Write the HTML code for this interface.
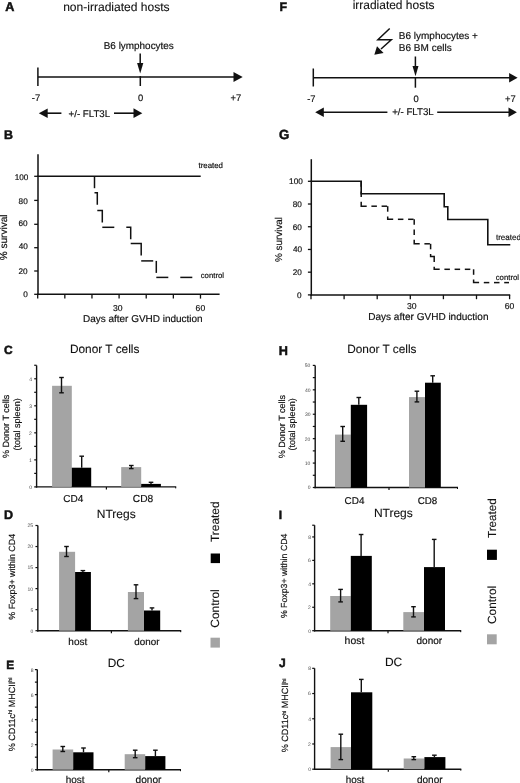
<!DOCTYPE html>
<html><head><meta charset="utf-8"><style>
html,body{margin:0;padding:0;background:#fff;}
body{width:520px;height:783px;overflow:hidden;}
svg{display:block;will-change:transform;filter:blur(0.35px);}
svg text{font-family:"Liberation Sans", sans-serif;text-rendering:geometricPrecision;}
</style></head><body>
<svg width="520" height="783" viewBox="0 0 520 783">
<rect width="520" height="783" fill="#fff"/>
<line x1="140.20" y1="53.50" x2="140.20" y2="64.50" stroke="#111" stroke-width="1.5" />
<polygon points="137.10,63.00 143.30,63.00 140.20,73.60" fill="#111"/>
<line x1="37.90" y1="77.00" x2="234.00" y2="77.00" stroke="#111" stroke-width="1.6" />
<polygon points="233.50,72.10 233.50,82.10 242.70,77.10" fill="#111"/>
<line x1="37.90" y1="67.50" x2="37.90" y2="86.00" stroke="#111" stroke-width="1.5" />
<line x1="140.30" y1="76.00" x2="140.30" y2="86.00" stroke="#111" stroke-width="1.5" />
<polygon points="47.70,108.40 47.70,118.00 38.80,113.20" fill="#111"/>
<line x1="47.00" y1="113.20" x2="61.40" y2="113.20" stroke="#111" stroke-width="1.6" />
<line x1="114.00" y1="113.20" x2="134.00" y2="113.20" stroke="#111" stroke-width="1.6" />
<polygon points="133.50,108.30 133.50,118.10 142.30,113.20" fill="#111"/>
<polyline points="389.70,28.50 377.90,39.70 391.30,39.70 381.00,49.00" fill="none" stroke="#111" stroke-width="1.5" stroke-linejoin="miter" stroke-linecap="butt" />
<polygon points="374.30,54.80 383.60,53.00 377.00,46.30" fill="#111"/>
<line x1="415.40" y1="56.50" x2="415.40" y2="67.00" stroke="#111" stroke-width="1.5" />
<polygon points="412.50,66.10 418.50,66.10 415.50,76.30" fill="#111"/>
<line x1="313.30" y1="77.80" x2="510.00" y2="77.80" stroke="#111" stroke-width="1.6" />
<polygon points="509.10,73.00 509.10,82.60 517.60,77.80" fill="#111"/>
<line x1="313.30" y1="68.50" x2="313.30" y2="86.50" stroke="#111" stroke-width="1.5" />
<line x1="415.40" y1="77.00" x2="415.40" y2="87.70" stroke="#111" stroke-width="1.5" />
<polygon points="323.80,107.40 323.80,117.00 315.20,112.20" fill="#111"/>
<line x1="323.00" y1="112.20" x2="387.40" y2="112.20" stroke="#111" stroke-width="1.6" />
<line x1="437.20" y1="112.20" x2="509.00" y2="112.20" stroke="#111" stroke-width="1.6" />
<polygon points="508.50,107.40 508.50,117.00 516.90,112.20" fill="#111"/>
<line x1="38.00" y1="154.20" x2="38.00" y2="295.00" stroke="#111" stroke-width="1.5" />
<line x1="37.30" y1="294.30" x2="219.60" y2="294.30" stroke="#111" stroke-width="1.5" />
<line x1="37.70" y1="294.30" x2="37.70" y2="298.60" stroke="#111" stroke-width="1.3" />
<line x1="64.83" y1="294.30" x2="64.83" y2="298.60" stroke="#111" stroke-width="1.3" />
<line x1="91.96" y1="294.30" x2="91.96" y2="298.60" stroke="#111" stroke-width="1.3" />
<line x1="119.09" y1="294.30" x2="119.09" y2="298.60" stroke="#111" stroke-width="1.3" />
<line x1="146.22" y1="294.30" x2="146.22" y2="298.60" stroke="#111" stroke-width="1.3" />
<line x1="173.35" y1="294.30" x2="173.35" y2="298.60" stroke="#111" stroke-width="1.3" />
<line x1="200.48" y1="294.30" x2="200.48" y2="298.60" stroke="#111" stroke-width="1.3" />
<line x1="34.20" y1="294.30" x2="38.00" y2="294.30" stroke="#111" stroke-width="1.3" />
<line x1="34.20" y1="271.00" x2="38.00" y2="271.00" stroke="#111" stroke-width="1.3" />
<line x1="34.20" y1="247.70" x2="38.00" y2="247.70" stroke="#111" stroke-width="1.3" />
<line x1="34.20" y1="224.30" x2="38.00" y2="224.30" stroke="#111" stroke-width="1.3" />
<line x1="34.20" y1="200.40" x2="38.00" y2="200.40" stroke="#111" stroke-width="1.3" />
<line x1="34.20" y1="176.30" x2="38.00" y2="176.30" stroke="#111" stroke-width="1.3" />
<line x1="37.30" y1="176.20" x2="200.70" y2="176.20" stroke="#111" stroke-width="1.6" />
<polyline points="94.50,176.20 94.50,188.20" fill="none" stroke="#111" stroke-width="1.5" stroke-linejoin="miter" stroke-linecap="butt" />
<polyline points="94.50,192.80 97.30,192.80 97.30,204.80" fill="none" stroke="#111" stroke-width="1.5" stroke-linejoin="miter" stroke-linecap="butt" />
<polyline points="97.30,210.50 102.30,210.50 102.30,222.50" fill="none" stroke="#111" stroke-width="1.5" stroke-linejoin="miter" stroke-linecap="butt" />
<polyline points="102.30,227.30 114.30,227.30" fill="none" stroke="#111" stroke-width="1.5" stroke-linejoin="miter" stroke-linecap="butt" />
<polyline points="126.30,227.30 130.70,227.30 130.70,239.30" fill="none" stroke="#111" stroke-width="1.5" stroke-linejoin="miter" stroke-linecap="butt" />
<polyline points="130.70,243.60 141.20,243.60 141.20,255.60" fill="none" stroke="#111" stroke-width="1.5" stroke-linejoin="miter" stroke-linecap="butt" />
<polyline points="141.20,260.90 153.20,260.90" fill="none" stroke="#111" stroke-width="1.5" stroke-linejoin="miter" stroke-linecap="butt" />
<polyline points="156.30,260.90 156.30,272.90" fill="none" stroke="#111" stroke-width="1.5" stroke-linejoin="miter" stroke-linecap="butt" />
<polyline points="156.30,277.40 168.30,277.40" fill="none" stroke="#111" stroke-width="1.5" stroke-linejoin="miter" stroke-linecap="butt" />
<polyline points="180.30,277.40 192.30,277.40" fill="none" stroke="#111" stroke-width="1.5" stroke-linejoin="miter" stroke-linecap="butt" />
<line x1="311.30" y1="159.20" x2="311.30" y2="295.60" stroke="#111" stroke-width="1.5" />
<line x1="310.60" y1="294.90" x2="510.20" y2="294.90" stroke="#111" stroke-width="1.5" />
<line x1="311.00" y1="294.90" x2="311.00" y2="299.20" stroke="#111" stroke-width="1.3" />
<line x1="344.10" y1="294.90" x2="344.10" y2="299.20" stroke="#111" stroke-width="1.3" />
<line x1="377.20" y1="294.90" x2="377.20" y2="299.20" stroke="#111" stroke-width="1.3" />
<line x1="410.30" y1="294.90" x2="410.30" y2="299.20" stroke="#111" stroke-width="1.3" />
<line x1="443.40" y1="294.90" x2="443.40" y2="299.20" stroke="#111" stroke-width="1.3" />
<line x1="476.50" y1="294.90" x2="476.50" y2="299.20" stroke="#111" stroke-width="1.3" />
<line x1="509.60" y1="294.90" x2="509.60" y2="299.20" stroke="#111" stroke-width="1.3" />
<line x1="307.90" y1="294.90" x2="311.30" y2="294.90" stroke="#111" stroke-width="1.3" />
<line x1="307.90" y1="272.18" x2="311.30" y2="272.18" stroke="#111" stroke-width="1.3" />
<line x1="307.90" y1="249.46" x2="311.30" y2="249.46" stroke="#111" stroke-width="1.3" />
<line x1="307.90" y1="226.74" x2="311.30" y2="226.74" stroke="#111" stroke-width="1.3" />
<line x1="307.90" y1="204.02" x2="311.30" y2="204.02" stroke="#111" stroke-width="1.3" />
<line x1="307.90" y1="181.30" x2="311.30" y2="181.30" stroke="#111" stroke-width="1.3" />
<polyline points="310.60,181.30 361.20,181.30 361.20,193.80 444.20,193.80 444.20,206.80 447.80,206.80 447.80,219.50 487.80,219.50 487.80,244.70 510.30,244.70" fill="none" stroke="#111" stroke-width="1.6" stroke-linejoin="miter" stroke-linecap="butt" />
<polyline points="361.20,181.30 361.20,186.80" fill="none" stroke="#111" stroke-width="1.5" stroke-linejoin="miter" stroke-linecap="butt" />
<polyline points="361.20,191.50 361.20,197.00" fill="none" stroke="#111" stroke-width="1.5" stroke-linejoin="miter" stroke-linecap="butt" />
<polyline points="361.20,201.70 361.20,206.20 366.70,206.20" fill="none" stroke="#111" stroke-width="1.5" stroke-linejoin="miter" stroke-linecap="butt" />
<polyline points="371.40,206.20 376.90,206.20" fill="none" stroke="#111" stroke-width="1.5" stroke-linejoin="miter" stroke-linecap="butt" />
<polyline points="381.60,206.20 387.10,206.20" fill="none" stroke="#111" stroke-width="1.5" stroke-linejoin="miter" stroke-linecap="butt" />
<polyline points="387.70,206.20 387.70,211.70" fill="none" stroke="#111" stroke-width="1.5" stroke-linejoin="miter" stroke-linecap="butt" />
<polyline points="387.70,216.40 387.70,219.30 393.20,219.30" fill="none" stroke="#111" stroke-width="1.5" stroke-linejoin="miter" stroke-linecap="butt" />
<polyline points="397.90,219.30 403.40,219.30" fill="none" stroke="#111" stroke-width="1.5" stroke-linejoin="miter" stroke-linecap="butt" />
<polyline points="408.10,219.30 413.60,219.30" fill="none" stroke="#111" stroke-width="1.5" stroke-linejoin="miter" stroke-linecap="butt" />
<polyline points="414.20,219.30 414.20,224.80" fill="none" stroke="#111" stroke-width="1.5" stroke-linejoin="miter" stroke-linecap="butt" />
<polyline points="414.20,229.50 414.20,235.00" fill="none" stroke="#111" stroke-width="1.5" stroke-linejoin="miter" stroke-linecap="butt" />
<polyline points="414.20,239.70 414.20,243.80 419.70,243.80" fill="none" stroke="#111" stroke-width="1.5" stroke-linejoin="miter" stroke-linecap="butt" />
<polyline points="424.40,243.80 429.90,243.80" fill="none" stroke="#111" stroke-width="1.5" stroke-linejoin="miter" stroke-linecap="butt" />
<polyline points="430.60,243.80 430.60,249.30" fill="none" stroke="#111" stroke-width="1.5" stroke-linejoin="miter" stroke-linecap="butt" />
<polyline points="430.60,254.00 430.60,256.50 434.20,256.50 434.20,262.00" fill="none" stroke="#111" stroke-width="1.5" stroke-linejoin="miter" stroke-linecap="butt" />
<polyline points="434.20,266.70 434.20,269.30 439.70,269.30" fill="none" stroke="#111" stroke-width="1.5" stroke-linejoin="miter" stroke-linecap="butt" />
<polyline points="444.40,269.30 449.90,269.30" fill="none" stroke="#111" stroke-width="1.5" stroke-linejoin="miter" stroke-linecap="butt" />
<polyline points="454.60,269.30 460.10,269.30" fill="none" stroke="#111" stroke-width="1.5" stroke-linejoin="miter" stroke-linecap="butt" />
<polyline points="464.80,269.30 470.30,269.30" fill="none" stroke="#111" stroke-width="1.5" stroke-linejoin="miter" stroke-linecap="butt" />
<polyline points="473.60,269.30 473.60,274.80" fill="none" stroke="#111" stroke-width="1.5" stroke-linejoin="miter" stroke-linecap="butt" />
<polyline points="473.60,279.50 473.60,282.60 479.10,282.60" fill="none" stroke="#111" stroke-width="1.5" stroke-linejoin="miter" stroke-linecap="butt" />
<polyline points="483.80,282.60 489.30,282.60" fill="none" stroke="#111" stroke-width="1.5" stroke-linejoin="miter" stroke-linecap="butt" />
<polyline points="494.00,282.60 499.50,282.60" fill="none" stroke="#111" stroke-width="1.5" stroke-linejoin="miter" stroke-linecap="butt" />
<polyline points="504.20,282.60 509.00,282.60" fill="none" stroke="#111" stroke-width="1.5" stroke-linejoin="miter" stroke-linecap="butt" />
<line x1="36.60" y1="365.40" x2="36.60" y2="487.60" stroke="#111" stroke-width="1.4" />
<line x1="35.90" y1="486.90" x2="176.20" y2="486.90" stroke="#111" stroke-width="1.4" />
<line x1="106.40" y1="486.90" x2="106.40" y2="489.40" stroke="#111" stroke-width="1.2" />
<line x1="175.70" y1="486.90" x2="175.70" y2="488.40" stroke="#111" stroke-width="1.0" />
<line x1="34.20" y1="486.90" x2="36.60" y2="486.90" stroke="#111" stroke-width="1.2" />
<line x1="34.20" y1="473.38" x2="36.60" y2="473.38" stroke="#111" stroke-width="1.2" />
<line x1="34.20" y1="459.87" x2="36.60" y2="459.87" stroke="#111" stroke-width="1.2" />
<line x1="34.20" y1="446.35" x2="36.60" y2="446.35" stroke="#111" stroke-width="1.2" />
<line x1="34.20" y1="432.84" x2="36.60" y2="432.84" stroke="#111" stroke-width="1.2" />
<line x1="34.20" y1="419.32" x2="36.60" y2="419.32" stroke="#111" stroke-width="1.2" />
<line x1="34.20" y1="405.81" x2="36.60" y2="405.81" stroke="#111" stroke-width="1.2" />
<line x1="34.20" y1="392.29" x2="36.60" y2="392.29" stroke="#111" stroke-width="1.2" />
<line x1="34.20" y1="378.78" x2="36.60" y2="378.78" stroke="#111" stroke-width="1.2" />
<line x1="34.20" y1="365.26" x2="36.60" y2="365.26" stroke="#111" stroke-width="1.2" />
<rect x="52.10" y="385.80" width="19.70" height="101.10" fill="#a4a4a4"/>
<rect x="71.80" y="467.70" width="19.40" height="19.20" fill="#000"/>
<rect x="121.20" y="467.10" width="20.00" height="19.80" fill="#a4a4a4"/>
<rect x="141.20" y="483.90" width="19.70" height="3.00" fill="#000"/>
<line x1="61.50" y1="377.50" x2="61.50" y2="392.80" stroke="#111" stroke-width="1.4" />
<line x1="59.20" y1="377.50" x2="63.80" y2="377.50" stroke="#111" stroke-width="1.4" />
<line x1="59.20" y1="392.80" x2="63.80" y2="392.80" stroke="#111" stroke-width="1.4" />
<line x1="81.70" y1="456.20" x2="81.70" y2="467.70" stroke="#111" stroke-width="1.4" />
<line x1="79.40" y1="456.20" x2="84.00" y2="456.20" stroke="#111" stroke-width="1.4" />
<line x1="131.30" y1="465.50" x2="131.30" y2="468.60" stroke="#111" stroke-width="1.4" />
<line x1="129.00" y1="465.50" x2="133.60" y2="465.50" stroke="#111" stroke-width="1.4" />
<line x1="129.00" y1="468.60" x2="133.60" y2="468.60" stroke="#111" stroke-width="1.4" />
<line x1="151.00" y1="482.30" x2="151.00" y2="483.90" stroke="#111" stroke-width="1.4" />
<line x1="148.70" y1="482.30" x2="153.30" y2="482.30" stroke="#111" stroke-width="1.4" />
<line x1="315.20" y1="365.40" x2="315.20" y2="488.20" stroke="#111" stroke-width="1.4" />
<line x1="314.50" y1="487.50" x2="458.00" y2="487.50" stroke="#111" stroke-width="1.4" />
<line x1="389.00" y1="487.50" x2="389.00" y2="490.00" stroke="#111" stroke-width="1.2" />
<line x1="457.50" y1="487.50" x2="457.50" y2="489.00" stroke="#111" stroke-width="1.0" />
<line x1="312.80" y1="487.50" x2="315.20" y2="487.50" stroke="#111" stroke-width="1.2" />
<line x1="312.80" y1="475.29" x2="315.20" y2="475.29" stroke="#111" stroke-width="1.2" />
<line x1="312.80" y1="463.08" x2="315.20" y2="463.08" stroke="#111" stroke-width="1.2" />
<line x1="312.80" y1="450.87" x2="315.20" y2="450.87" stroke="#111" stroke-width="1.2" />
<line x1="312.80" y1="438.66" x2="315.20" y2="438.66" stroke="#111" stroke-width="1.2" />
<line x1="312.80" y1="426.45" x2="315.20" y2="426.45" stroke="#111" stroke-width="1.2" />
<line x1="312.80" y1="414.24" x2="315.20" y2="414.24" stroke="#111" stroke-width="1.2" />
<line x1="312.80" y1="402.03" x2="315.20" y2="402.03" stroke="#111" stroke-width="1.2" />
<line x1="312.80" y1="389.82" x2="315.20" y2="389.82" stroke="#111" stroke-width="1.2" />
<line x1="312.80" y1="377.61" x2="315.20" y2="377.61" stroke="#111" stroke-width="1.2" />
<line x1="312.80" y1="365.40" x2="315.20" y2="365.40" stroke="#111" stroke-width="1.2" />
<rect x="335.00" y="434.60" width="15.80" height="52.90" fill="#a4a4a4"/>
<rect x="350.80" y="404.80" width="16.30" height="82.70" fill="#000"/>
<rect x="409.00" y="397.10" width="16.00" height="90.40" fill="#a4a4a4"/>
<rect x="425.00" y="382.70" width="15.80" height="104.80" fill="#000"/>
<line x1="342.70" y1="426.50" x2="342.70" y2="441.30" stroke="#111" stroke-width="1.4" />
<line x1="340.40" y1="426.50" x2="345.00" y2="426.50" stroke="#111" stroke-width="1.4" />
<line x1="340.40" y1="441.30" x2="345.00" y2="441.30" stroke="#111" stroke-width="1.4" />
<line x1="358.80" y1="397.50" x2="358.80" y2="404.80" stroke="#111" stroke-width="1.4" />
<line x1="356.50" y1="397.50" x2="361.10" y2="397.50" stroke="#111" stroke-width="1.4" />
<line x1="416.90" y1="391.20" x2="416.90" y2="401.90" stroke="#111" stroke-width="1.4" />
<line x1="414.60" y1="391.20" x2="419.20" y2="391.20" stroke="#111" stroke-width="1.4" />
<line x1="414.60" y1="401.90" x2="419.20" y2="401.90" stroke="#111" stroke-width="1.4" />
<line x1="432.70" y1="375.80" x2="432.70" y2="382.70" stroke="#111" stroke-width="1.4" />
<line x1="430.40" y1="375.80" x2="435.00" y2="375.80" stroke="#111" stroke-width="1.4" />
<line x1="37.85" y1="525.60" x2="37.85" y2="631.40" stroke="#111" stroke-width="1.4" />
<line x1="37.15" y1="630.70" x2="181.20" y2="630.70" stroke="#111" stroke-width="1.4" />
<line x1="111.40" y1="630.70" x2="111.40" y2="633.20" stroke="#111" stroke-width="1.2" />
<line x1="180.70" y1="630.70" x2="180.70" y2="632.20" stroke="#111" stroke-width="1.0" />
<line x1="35.45" y1="630.70" x2="37.85" y2="630.70" stroke="#111" stroke-width="1.2" />
<line x1="35.45" y1="609.66" x2="37.85" y2="609.66" stroke="#111" stroke-width="1.2" />
<line x1="35.45" y1="588.62" x2="37.85" y2="588.62" stroke="#111" stroke-width="1.2" />
<line x1="35.45" y1="567.58" x2="37.85" y2="567.58" stroke="#111" stroke-width="1.2" />
<line x1="35.45" y1="546.54" x2="37.85" y2="546.54" stroke="#111" stroke-width="1.2" />
<line x1="35.45" y1="525.50" x2="37.85" y2="525.50" stroke="#111" stroke-width="1.2" />
<rect x="59.10" y="551.80" width="16.00" height="78.90" fill="#a4a4a4"/>
<rect x="75.10" y="572.00" width="15.80" height="58.70" fill="#000"/>
<rect x="127.90" y="592.00" width="16.10" height="38.70" fill="#a4a4a4"/>
<rect x="144.00" y="610.50" width="16.20" height="20.20" fill="#000"/>
<line x1="66.50" y1="546.50" x2="66.50" y2="556.50" stroke="#111" stroke-width="1.4" />
<line x1="64.20" y1="546.50" x2="68.80" y2="546.50" stroke="#111" stroke-width="1.4" />
<line x1="64.20" y1="556.50" x2="68.80" y2="556.50" stroke="#111" stroke-width="1.4" />
<line x1="82.90" y1="570.60" x2="82.90" y2="572.00" stroke="#111" stroke-width="1.4" />
<line x1="80.60" y1="570.60" x2="85.20" y2="570.60" stroke="#111" stroke-width="1.4" />
<line x1="136.00" y1="584.80" x2="136.00" y2="598.60" stroke="#111" stroke-width="1.4" />
<line x1="133.70" y1="584.80" x2="138.30" y2="584.80" stroke="#111" stroke-width="1.4" />
<line x1="133.70" y1="598.60" x2="138.30" y2="598.60" stroke="#111" stroke-width="1.4" />
<line x1="152.00" y1="607.90" x2="152.00" y2="610.50" stroke="#111" stroke-width="1.4" />
<line x1="149.70" y1="607.90" x2="154.30" y2="607.90" stroke="#111" stroke-width="1.4" />
<rect x="210.70" y="553.50" width="9.30" height="9.60" fill="#000"/>
<rect x="210.50" y="637.70" width="9.40" height="9.90" fill="#a4a4a4"/>
<line x1="314.60" y1="525.20" x2="314.60" y2="631.40" stroke="#111" stroke-width="1.4" />
<line x1="313.90" y1="630.70" x2="461.20" y2="630.70" stroke="#111" stroke-width="1.4" />
<line x1="388.00" y1="630.70" x2="388.00" y2="633.20" stroke="#111" stroke-width="1.2" />
<line x1="460.70" y1="630.70" x2="460.70" y2="632.20" stroke="#111" stroke-width="1.0" />
<line x1="312.20" y1="630.70" x2="314.60" y2="630.70" stroke="#111" stroke-width="1.2" />
<line x1="312.20" y1="607.26" x2="314.60" y2="607.26" stroke="#111" stroke-width="1.2" />
<line x1="312.20" y1="583.82" x2="314.60" y2="583.82" stroke="#111" stroke-width="1.2" />
<line x1="312.20" y1="560.38" x2="314.60" y2="560.38" stroke="#111" stroke-width="1.2" />
<line x1="312.20" y1="536.94" x2="314.60" y2="536.94" stroke="#111" stroke-width="1.2" />
<line x1="312.20" y1="525.22" x2="314.60" y2="525.22" stroke="#111" stroke-width="1.2" />
<rect x="330.20" y="596.00" width="20.60" height="34.70" fill="#a4a4a4"/>
<rect x="350.80" y="555.90" width="21.00" height="74.80" fill="#000"/>
<rect x="403.30" y="612.10" width="20.70" height="18.60" fill="#a4a4a4"/>
<rect x="424.00" y="567.10" width="21.00" height="63.60" fill="#000"/>
<line x1="340.60" y1="589.40" x2="340.60" y2="601.90" stroke="#111" stroke-width="1.4" />
<line x1="338.30" y1="589.40" x2="342.90" y2="589.40" stroke="#111" stroke-width="1.4" />
<line x1="338.30" y1="601.90" x2="342.90" y2="601.90" stroke="#111" stroke-width="1.4" />
<line x1="361.10" y1="534.50" x2="361.10" y2="555.90" stroke="#111" stroke-width="1.4" />
<line x1="358.80" y1="534.50" x2="363.40" y2="534.50" stroke="#111" stroke-width="1.4" />
<line x1="413.50" y1="606.70" x2="413.50" y2="616.90" stroke="#111" stroke-width="1.4" />
<line x1="411.20" y1="606.70" x2="415.80" y2="606.70" stroke="#111" stroke-width="1.4" />
<line x1="411.20" y1="616.90" x2="415.80" y2="616.90" stroke="#111" stroke-width="1.4" />
<line x1="434.20" y1="539.40" x2="434.20" y2="567.10" stroke="#111" stroke-width="1.4" />
<line x1="431.90" y1="539.40" x2="436.50" y2="539.40" stroke="#111" stroke-width="1.4" />
<rect x="487.00" y="549.70" width="9.90" height="10.20" fill="#000"/>
<rect x="487.00" y="634.30" width="9.70" height="10.00" fill="#a4a4a4"/>
<line x1="37.30" y1="669.60" x2="37.30" y2="770.40" stroke="#111" stroke-width="1.4" />
<line x1="36.60" y1="769.70" x2="181.00" y2="769.70" stroke="#111" stroke-width="1.4" />
<line x1="108.80" y1="769.70" x2="108.80" y2="772.20" stroke="#111" stroke-width="1.2" />
<line x1="180.50" y1="769.70" x2="180.50" y2="771.20" stroke="#111" stroke-width="1.0" />
<line x1="34.90" y1="769.70" x2="37.30" y2="769.70" stroke="#111" stroke-width="1.2" />
<line x1="34.90" y1="757.19" x2="37.30" y2="757.19" stroke="#111" stroke-width="1.2" />
<line x1="34.90" y1="744.68" x2="37.30" y2="744.68" stroke="#111" stroke-width="1.2" />
<line x1="34.90" y1="732.17" x2="37.30" y2="732.17" stroke="#111" stroke-width="1.2" />
<line x1="34.90" y1="719.66" x2="37.30" y2="719.66" stroke="#111" stroke-width="1.2" />
<line x1="34.90" y1="707.15" x2="37.30" y2="707.15" stroke="#111" stroke-width="1.2" />
<line x1="34.90" y1="694.64" x2="37.30" y2="694.64" stroke="#111" stroke-width="1.2" />
<line x1="34.90" y1="682.13" x2="37.30" y2="682.13" stroke="#111" stroke-width="1.2" />
<line x1="34.90" y1="669.62" x2="37.30" y2="669.62" stroke="#111" stroke-width="1.2" />
<rect x="52.60" y="749.50" width="20.60" height="20.20" fill="#a4a4a4"/>
<rect x="73.20" y="752.30" width="20.30" height="17.40" fill="#000"/>
<rect x="124.70" y="754.20" width="20.50" height="15.50" fill="#a4a4a4"/>
<rect x="145.20" y="756.10" width="20.20" height="13.60" fill="#000"/>
<line x1="62.80" y1="746.50" x2="62.80" y2="751.50" stroke="#111" stroke-width="1.4" />
<line x1="60.50" y1="746.50" x2="65.10" y2="746.50" stroke="#111" stroke-width="1.4" />
<line x1="60.50" y1="751.50" x2="65.10" y2="751.50" stroke="#111" stroke-width="1.4" />
<line x1="83.50" y1="748.00" x2="83.50" y2="752.30" stroke="#111" stroke-width="1.4" />
<line x1="81.20" y1="748.00" x2="85.80" y2="748.00" stroke="#111" stroke-width="1.4" />
<line x1="135.20" y1="750.20" x2="135.20" y2="757.70" stroke="#111" stroke-width="1.4" />
<line x1="132.90" y1="750.20" x2="137.50" y2="750.20" stroke="#111" stroke-width="1.4" />
<line x1="132.90" y1="757.70" x2="137.50" y2="757.70" stroke="#111" stroke-width="1.4" />
<line x1="155.40" y1="750.20" x2="155.40" y2="756.10" stroke="#111" stroke-width="1.4" />
<line x1="153.10" y1="750.20" x2="157.70" y2="750.20" stroke="#111" stroke-width="1.4" />
<line x1="314.60" y1="668.30" x2="314.60" y2="769.90" stroke="#111" stroke-width="1.4" />
<line x1="313.90" y1="769.20" x2="461.30" y2="769.20" stroke="#111" stroke-width="1.4" />
<line x1="388.30" y1="769.20" x2="388.30" y2="771.70" stroke="#111" stroke-width="1.2" />
<line x1="460.80" y1="769.20" x2="460.80" y2="770.70" stroke="#111" stroke-width="1.0" />
<line x1="312.20" y1="769.20" x2="314.60" y2="769.20" stroke="#111" stroke-width="1.2" />
<line x1="312.20" y1="743.98" x2="314.60" y2="743.98" stroke="#111" stroke-width="1.2" />
<line x1="312.20" y1="718.76" x2="314.60" y2="718.76" stroke="#111" stroke-width="1.2" />
<line x1="312.20" y1="693.54" x2="314.60" y2="693.54" stroke="#111" stroke-width="1.2" />
<line x1="312.20" y1="668.32" x2="314.60" y2="668.32" stroke="#111" stroke-width="1.2" />
<rect x="330.60" y="747.10" width="20.40" height="22.10" fill="#a4a4a4"/>
<rect x="351.00" y="692.30" width="21.30" height="76.90" fill="#000"/>
<rect x="403.70" y="758.50" width="20.70" height="10.70" fill="#a4a4a4"/>
<rect x="424.40" y="757.10" width="21.00" height="12.10" fill="#000"/>
<line x1="340.80" y1="734.20" x2="340.80" y2="759.60" stroke="#111" stroke-width="1.4" />
<line x1="338.50" y1="734.20" x2="343.10" y2="734.20" stroke="#111" stroke-width="1.4" />
<line x1="338.50" y1="759.60" x2="343.10" y2="759.60" stroke="#111" stroke-width="1.4" />
<line x1="361.30" y1="679.40" x2="361.30" y2="692.30" stroke="#111" stroke-width="1.4" />
<line x1="359.00" y1="679.40" x2="363.60" y2="679.40" stroke="#111" stroke-width="1.4" />
<line x1="413.80" y1="756.70" x2="413.80" y2="759.60" stroke="#111" stroke-width="1.4" />
<line x1="411.50" y1="756.70" x2="416.10" y2="756.70" stroke="#111" stroke-width="1.4" />
<line x1="411.50" y1="759.60" x2="416.10" y2="759.60" stroke="#111" stroke-width="1.4" />
<line x1="434.40" y1="755.20" x2="434.40" y2="757.10" stroke="#111" stroke-width="1.4" />
<line x1="432.10" y1="755.20" x2="436.70" y2="755.20" stroke="#111" stroke-width="1.4" />
<text transform="translate(14.90,751.30) rotate(-90)" font-size="9.0" fill="#111" stroke="#111" stroke-width="0.18">% CD11c<tspan font-size="5.3" dy="-2.7">hi</tspan><tspan dy="2.7"> MHCII</tspan><tspan font-size="5.3" dy="-2.7">hi</tspan></text>
<text transform="translate(288.30,752.20) rotate(-90)" font-size="9.0" fill="#111" stroke="#111" stroke-width="0.18">% CD11c<tspan font-size="5.3" dy="-2.7">hi</tspan><tspan dy="2.7"> MHCII</tspan><tspan font-size="5.3" dy="-2.7">hi</tspan></text>
<text x="5.30" y="11.00" font-size="12.65" font-weight="bold" fill="#111" stroke="#111" stroke-width="0.5">A</text>
<text x="63.13" y="11.10" font-size="12.06" font-weight="normal" fill="#111" stroke="#111" stroke-width="0.1">non-irradiated hosts</text>
<text x="103.76" y="49.00" font-size="9.93" font-weight="normal" fill="#111" stroke="#111" stroke-width="0.18">B6 lymphocytes</text>
<text x="31.87" y="101.00" font-size="9.40" font-weight="normal" fill="#111" stroke="#111" stroke-width="0.18">-7</text>
<text x="137.97" y="101.00" font-size="9.40" font-weight="normal" fill="#111" stroke="#111" stroke-width="0.18">0</text>
<text x="230.47" y="101.00" font-size="9.40" font-weight="normal" fill="#111" stroke="#111" stroke-width="0.18">+7</text>
<text x="68.56" y="116.50" font-size="9.71" font-weight="normal" fill="#111" stroke="#111" stroke-width="0.18">+/- FLT3L</text>
<text x="279.41" y="10.80" font-size="12.31" font-weight="bold" fill="#111" stroke="#111" stroke-width="0.5">F</text>
<text x="352.63" y="8.90" font-size="11.98" font-weight="normal" fill="#111" stroke="#111" stroke-width="0.1">irradiated hosts</text>
<text x="398.85" y="39.30" font-size="9.99" font-weight="normal" fill="#111" stroke="#111" stroke-width="0.18">B6 lymphocytes +</text>
<text x="398.85" y="50.90" font-size="10.00" font-weight="normal" fill="#111" stroke="#111" stroke-width="0.18">B6 BM cells</text>
<text x="307.17" y="102.00" font-size="9.40" font-weight="normal" fill="#111" stroke="#111" stroke-width="0.18">-7</text>
<text x="413.47" y="102.20" font-size="9.40" font-weight="normal" fill="#111" stroke="#111" stroke-width="0.18">0</text>
<text x="504.97" y="101.80" font-size="9.40" font-weight="normal" fill="#111" stroke="#111" stroke-width="0.18">+7</text>
<text x="392.16" y="114.60" font-size="9.71" font-weight="normal" fill="#111" stroke="#111" stroke-width="0.18">+/- FLT3L</text>
<text x="4.10" y="139.00" font-size="12.42" font-weight="bold" fill="#111" stroke="#111" stroke-width="0.5">B</text>
<text x="23.20" y="297.25" font-size="8.20" font-weight="normal" fill="#111" stroke="#111" stroke-width="0.18">0</text>
<text x="18.54" y="273.95" font-size="8.20" font-weight="normal" fill="#111" stroke="#111" stroke-width="0.18">20</text>
<text x="18.79" y="249.05" font-size="8.20" font-weight="normal" fill="#111" stroke="#111" stroke-width="0.18">40</text>
<text x="18.54" y="226.45" font-size="8.20" font-weight="normal" fill="#111" stroke="#111" stroke-width="0.18">60</text>
<text x="18.62" y="203.65" font-size="8.20" font-weight="normal" fill="#111" stroke="#111" stroke-width="0.18">80</text>
<text x="14.68" y="179.55" font-size="8.20" font-weight="normal" fill="#111" stroke="#111" stroke-width="0.18">100</text>
<text x="112.99" y="310.90" font-size="8.60" font-weight="normal" fill="#111" stroke="#111" stroke-width="0.18">30</text>
<text x="195.62" y="310.90" font-size="8.60" font-weight="normal" fill="#111" stroke="#111" stroke-width="0.18">60</text>
<text x="82.95" y="321.60" font-size="9.98" font-weight="normal" fill="#111" stroke="#111" stroke-width="0.18">Days after GVHD induction</text>
<text transform="translate(7.40,260.35) rotate(-90)" font-size="10.08" font-weight="normal" fill="#111" stroke="#111" stroke-width="0.18">% survival</text>
<text x="198.47" y="168.30" font-size="7.88" font-weight="normal" fill="#111" stroke="#111" stroke-width="0.18">treated</text>
<text x="200.74" y="277.80" font-size="7.76" font-weight="normal" fill="#111" stroke="#111" stroke-width="0.18">control</text>
<text x="278.92" y="139.40" font-size="13.24" font-weight="bold" fill="#111" stroke="#111" stroke-width="0.5">G</text>
<text x="297.10" y="297.85" font-size="8.20" font-weight="normal" fill="#111" stroke="#111" stroke-width="0.18">0</text>
<text x="292.64" y="275.13" font-size="8.20" font-weight="normal" fill="#111" stroke="#111" stroke-width="0.18">20</text>
<text x="292.89" y="252.41" font-size="8.20" font-weight="normal" fill="#111" stroke="#111" stroke-width="0.18">40</text>
<text x="292.64" y="229.69" font-size="8.20" font-weight="normal" fill="#111" stroke="#111" stroke-width="0.18">60</text>
<text x="292.72" y="206.97" font-size="8.20" font-weight="normal" fill="#111" stroke="#111" stroke-width="0.18">80</text>
<text x="289.08" y="184.25" font-size="8.20" font-weight="normal" fill="#111" stroke="#111" stroke-width="0.18">100</text>
<text x="406.89" y="309.00" font-size="8.60" font-weight="normal" fill="#111" stroke="#111" stroke-width="0.18">30</text>
<text x="504.82" y="309.00" font-size="8.60" font-weight="normal" fill="#111" stroke="#111" stroke-width="0.18">60</text>
<text x="368.25" y="319.80" font-size="10.02" font-weight="normal" fill="#111" stroke="#111" stroke-width="0.18">Days after GVHD induction</text>
<text transform="translate(282.40,261.95) rotate(-90)" font-size="9.88" font-weight="normal" fill="#111" stroke="#111" stroke-width="0.18">% survival</text>
<text x="495.97" y="239.80" font-size="8.01" font-weight="normal" fill="#111" stroke="#111" stroke-width="0.18">treated</text>
<text x="495.74" y="279.80" font-size="7.76" font-weight="normal" fill="#111" stroke="#111" stroke-width="0.18">control</text>
<text x="4.07" y="354.30" font-size="11.97" font-weight="bold" fill="#111" stroke="#111" stroke-width="0.5">C</text>
<text x="69.90" y="353.10" font-size="11.88" font-weight="normal" fill="#111" stroke="#111" stroke-width="0.1">Donor T cells</text>
<text x="29.20" y="488.80" font-size="5.00" font-weight="normal" fill="#444">0</text>
<text x="29.00" y="461.77" font-size="5.00" font-weight="normal" fill="#444">1</text>
<text x="29.10" y="434.74" font-size="5.00" font-weight="normal" fill="#444">2</text>
<text x="29.20" y="407.71" font-size="5.00" font-weight="normal" fill="#444">3</text>
<text x="29.25" y="380.68" font-size="5.00" font-weight="normal" fill="#444">4</text>
<text x="63.25" y="502.00" font-size="10.03" font-weight="normal" fill="#111" stroke="#111" stroke-width="0.18">CD4</text>
<text x="132.84" y="502.00" font-size="10.19" font-weight="normal" fill="#111" stroke="#111" stroke-width="0.18">CD8</text>
<text transform="translate(9.00,457.92) rotate(-90)" font-size="9.00" font-weight="normal" fill="#111" stroke="#111" stroke-width="0.18">% Donor T cells</text>
<text transform="translate(20.30,450.39) rotate(-90)" font-size="9.00" font-weight="normal" fill="#111" stroke="#111" stroke-width="0.18">(total spleen)</text>
<text x="278.69" y="354.60" font-size="12.67" font-weight="bold" fill="#111" stroke="#111" stroke-width="0.5">H</text>
<text x="347.20" y="353.10" font-size="11.83" font-weight="normal" fill="#111" stroke="#111" stroke-width="0.1">Donor T cells</text>
<text x="307.80" y="489.40" font-size="5.00" font-weight="normal" fill="#444">0</text>
<text x="304.70" y="464.98" font-size="5.00" font-weight="normal" fill="#444">10</text>
<text x="304.80" y="440.56" font-size="5.00" font-weight="normal" fill="#444">20</text>
<text x="304.90" y="416.14" font-size="5.00" font-weight="normal" fill="#444">30</text>
<text x="304.95" y="391.72" font-size="5.00" font-weight="normal" fill="#444">40</text>
<text x="304.85" y="367.30" font-size="5.00" font-weight="normal" fill="#444">50</text>
<text x="344.55" y="503.70" font-size="9.93" font-weight="normal" fill="#111" stroke="#111" stroke-width="0.18">CD4</text>
<text x="417.66" y="503.70" font-size="9.77" font-weight="normal" fill="#111" stroke="#111" stroke-width="0.18">CD8</text>
<text transform="translate(284.80,458.22) rotate(-90)" font-size="9.00" font-weight="normal" fill="#111" stroke="#111" stroke-width="0.18">% Donor T cells</text>
<text transform="translate(295.30,450.39) rotate(-90)" font-size="9.00" font-weight="normal" fill="#111" stroke="#111" stroke-width="0.18">(total spleen)</text>
<text x="4.10" y="518.60" font-size="12.54" font-weight="bold" fill="#111" stroke="#111" stroke-width="0.5">D</text>
<text x="96.79" y="518.40" font-size="12.01" font-weight="normal" fill="#111" stroke="#111" stroke-width="0.1">NTregs</text>
<text x="30.60" y="632.60" font-size="5.00" font-weight="normal" fill="#444">0</text>
<text x="30.55" y="611.56" font-size="5.00" font-weight="normal" fill="#444">5</text>
<text x="27.50" y="590.52" font-size="5.00" font-weight="normal" fill="#444">10</text>
<text x="27.50" y="569.48" font-size="5.00" font-weight="normal" fill="#444">15</text>
<text x="27.60" y="548.44" font-size="5.00" font-weight="normal" fill="#444">20</text>
<text x="27.60" y="527.40" font-size="5.00" font-weight="normal" fill="#444">25</text>
<text x="68.35" y="644.50" font-size="9.99" font-weight="normal" fill="#111" stroke="#111" stroke-width="0.18">host</text>
<text x="134.36" y="644.50" font-size="9.82" font-weight="normal" fill="#111" stroke="#111" stroke-width="0.18">donor</text>
<text transform="translate(14.90,619.72) rotate(-90)" font-size="8.91" font-weight="normal" fill="#111" stroke="#111" stroke-width="0.18">% Foxp3+ within CD4</text>
<text transform="translate(219.00,541.99) rotate(-90)" font-size="11.88" font-weight="normal" fill="#111" stroke="#111" stroke-width="0.1">Treated</text>
<text transform="translate(219.00,627.65) rotate(-90)" font-size="11.92" font-weight="normal" fill="#111" stroke="#111" stroke-width="0.1">Control</text>
<text x="278.74" y="518.50" font-size="11.88" font-weight="bold" fill="#111" stroke="#111" stroke-width="0.5">I</text>
<text x="373.89" y="517.30" font-size="12.01" font-weight="normal" fill="#111" stroke="#111" stroke-width="0.1">NTregs</text>
<text x="308.20" y="632.60" font-size="5.00" font-weight="normal" fill="#444">0</text>
<text x="308.10" y="609.16" font-size="5.00" font-weight="normal" fill="#444">2</text>
<text x="308.25" y="585.72" font-size="5.00" font-weight="normal" fill="#444">4</text>
<text x="308.10" y="562.28" font-size="5.00" font-weight="normal" fill="#444">6</text>
<text x="308.15" y="538.84" font-size="5.00" font-weight="normal" fill="#444">8</text>
<text x="344.62" y="644.00" font-size="10.42" font-weight="normal" fill="#111" stroke="#111" stroke-width="0.18">host</text>
<text x="416.55" y="644.00" font-size="10.02" font-weight="normal" fill="#111" stroke="#111" stroke-width="0.18">donor</text>
<text transform="translate(286.90,618.11) rotate(-90)" font-size="8.78" font-weight="normal" fill="#111" stroke="#111" stroke-width="0.18">% Foxp3+ within CD4</text>
<text transform="translate(495.90,537.98) rotate(-90)" font-size="11.64" font-weight="normal" fill="#111" stroke="#111" stroke-width="0.1">Treated</text>
<text transform="translate(495.90,623.94) rotate(-90)" font-size="11.83" font-weight="normal" fill="#111" stroke="#111" stroke-width="0.1">Control</text>
<text x="6.33" y="668.80" font-size="11.93" font-weight="bold" fill="#111" stroke="#111" stroke-width="0.5">E</text>
<text x="107.80" y="667.40" font-size="11.86" font-weight="normal" fill="#111" stroke="#111" stroke-width="0.1">DC</text>
<text x="30.80" y="771.60" font-size="5.00" font-weight="normal" fill="#444">0</text>
<text x="30.70" y="746.58" font-size="5.00" font-weight="normal" fill="#444">2</text>
<text x="30.85" y="721.56" font-size="5.00" font-weight="normal" fill="#444">4</text>
<text x="30.70" y="696.54" font-size="5.00" font-weight="normal" fill="#444">6</text>
<text x="30.75" y="671.52" font-size="5.00" font-weight="normal" fill="#444">8</text>
<text x="65.65" y="783.20" font-size="9.99" font-weight="normal" fill="#111" stroke="#111" stroke-width="0.18">host</text>
<text x="135.54" y="783.20" font-size="10.14" font-weight="normal" fill="#111" stroke="#111" stroke-width="0.18">donor</text>
<text x="278.93" y="666.80" font-size="12.08" font-weight="bold" fill="#111" stroke="#111" stroke-width="0.5">J</text>
<text x="384.89" y="666.20" font-size="12.01" font-weight="normal" fill="#111" stroke="#111" stroke-width="0.1">DC</text>
<text x="308.20" y="771.10" font-size="5.00" font-weight="normal" fill="#444">0</text>
<text x="308.10" y="745.88" font-size="5.00" font-weight="normal" fill="#444">2</text>
<text x="308.25" y="720.66" font-size="5.00" font-weight="normal" fill="#444">4</text>
<text x="308.10" y="695.44" font-size="5.00" font-weight="normal" fill="#444">6</text>
<text x="308.15" y="670.22" font-size="5.00" font-weight="normal" fill="#444">8</text>
<text x="345.66" y="783.00" font-size="9.88" font-weight="normal" fill="#111" stroke="#111" stroke-width="0.18">host</text>
<text x="416.95" y="783.00" font-size="10.02" font-weight="normal" fill="#111" stroke="#111" stroke-width="0.18">donor</text>
</svg>
</body></html>
